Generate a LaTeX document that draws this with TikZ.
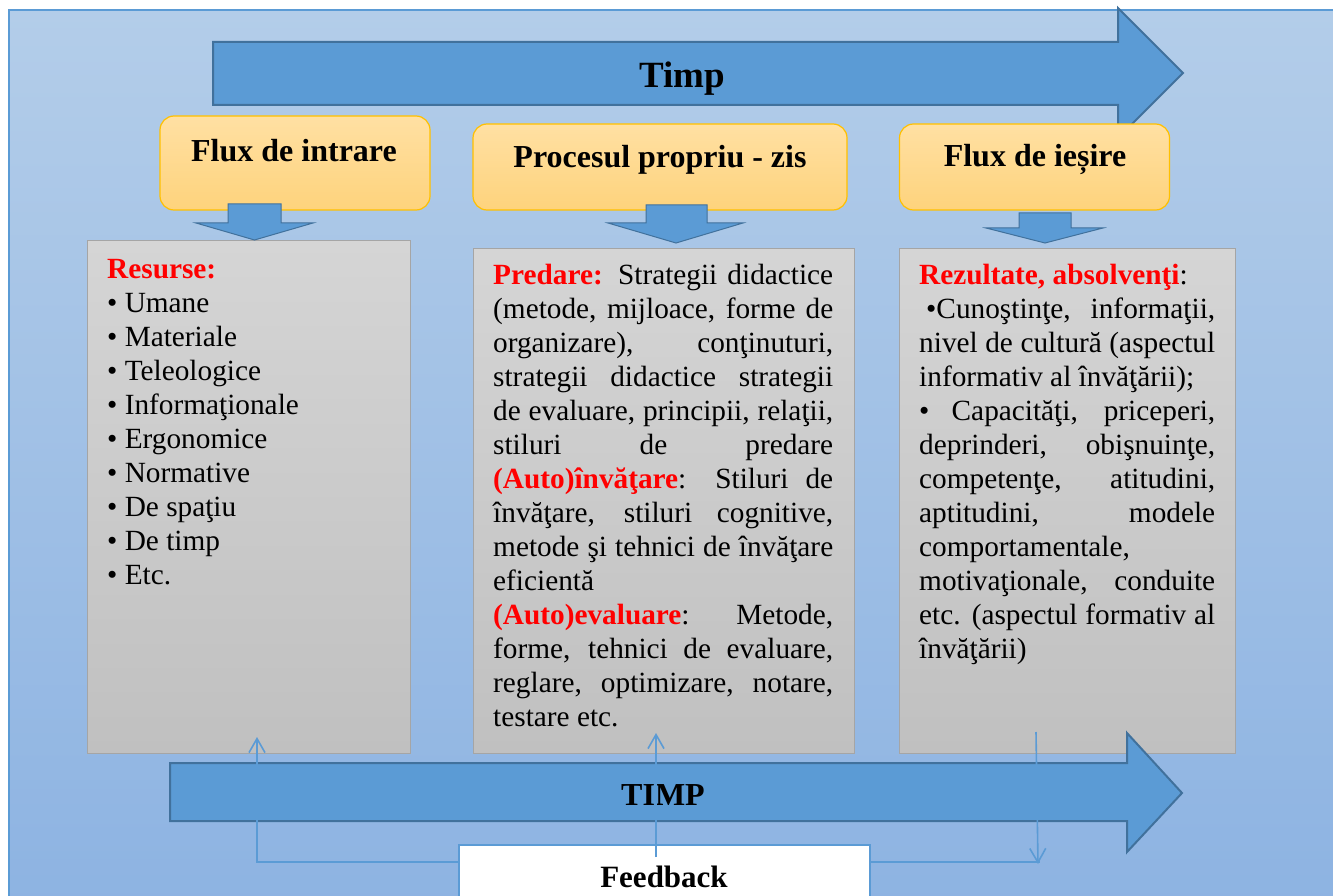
\documentclass[tikz,border=0pt]{standalone}
\usepackage{fontspec}
\setmainfont{Liberation Serif}
\usetikzlibrary{arrows.meta}
\definecolor{bgtop}{HTML}{B3CDE9}
\definecolor{bgbot}{HTML}{8DB3E2}
\definecolor{arrfill}{HTML}{5B9BD5}
\definecolor{arrline}{HTML}{41719C}
\definecolor{hdtop}{HTML}{FFE0A3}
\definecolor{hdbot}{HTML}{FED37C}
\definecolor{hdline}{HTML}{FFC000}
\definecolor{grtop}{HTML}{D5D5D5}
\definecolor{grbot}{HTML}{C0C0C0}
\definecolor{grline}{HTML}{A5A5A5}
\definecolor{fbline}{HTML}{5B9BD5}
\newcommand{\JustA}[1]{\makebox[340pt][s]{#1}}
\newcommand{\JustB}[1]{\makebox[296pt][s]{#1}}
\tikzset{
 bigarrow/.style={fill=arrfill, draw=arrline, line width=2pt, line join=miter},
 header/.style={rounded corners=14pt, top color=hdtop, bottom color=hdbot, draw=hdline, line width=1.2pt, inner sep=0},
 graybox/.style={top color=grtop, bottom color=grbot, draw=grline, line width=1pt, inner sep=0},
 smallarrow/.style={fill=arrfill, draw=arrline, line width=1pt},
 fb/.style={draw=fbline, line width=1.6pt},
 fbarrow/.style={fb, -{Straight Barb[length=14pt,width=16pt,line width=1.6pt]}},
 hdtext/.style={font=\fontsize{32}{38}\selectfont\bfseries, anchor=base, inner sep=0},
 body/.style={font=\fontsize{29.3}{34}\selectfont, anchor=north west, inner sep=0, align=left},
}
\begin{document}
\begin{tikzpicture}[x=1pt,y=-1pt]
\useasboundingbox (0,0) rectangle (1333,896);
\clip (0,0) rectangle (1333,896);
\fill[white] (0,0) rectangle (1333,896);
\path[top color=bgtop, bottom color=bgbot, draw=fbline, line width=1.2pt] (9,10) rectangle (1345,910);

% top arrow
\path[bigarrow] (213,42) -- (1118,42) -- (1118,8) -- (1183,73) -- (1118,138) -- (1118,105) -- (213,105) -- cycle;
\node[font=\fontsize{37}{44}\selectfont\bfseries, anchor=base, inner sep=0] (timp) at (682,88) {Timp};

% headers
\node[header, minimum width=270pt, minimum height=94pt] (h1) at (295,163) {};
\node[hdtext] (h1t) at (294,162) {Flux de intrare};
\node[header, minimum width=374pt, minimum height=86pt] (h2) at (660,167) {};
\node[hdtext] (h2t) at (660,168) {Procesul propriu - zis};
\node[header, minimum width=270pt, minimum height=86pt] (h3) at (1034.5,167) {};
\node[hdtext] (h3t) at (1035,167) {Flux de ieșire};

% gray boxes
\node[graybox, minimum width=323pt, minimum height=513pt] (g1) at (248.5,496.5) {};
\node[graybox, minimum width=381pt, minimum height=505pt] (g2) at (663.5,500.5) {};
\node[graybox, minimum width=336pt, minimum height=505pt] (g3) at (1067,500.5) {};

% small arrows
\path[smallarrow] (228,204) -- (281,204) -- (281,223) -- (313,223) -- (254.5,240) -- (196,223) -- (228,223) -- cycle;
\path[smallarrow] (646,205) -- (707,205) -- (707,223) -- (743,223) -- (676,243) -- (608,223) -- (646,223) -- cycle;
\path[smallarrow] (1019,213) -- (1071,213) -- (1071,228) -- (1103,228) -- (1045,243) -- (986,228) -- (1019,228) -- cycle;

% texts
\node[body] (txt1) at (107,254) {\rule{0pt}{24pt}\textcolor{red}{\textbf{Resurse:}}\\
• Umane\\
• Materiale\\
• Teleologice\\
• Informaţionale\\
• Ergonomice\\
• Normative\\
• De spaţiu\\
• De timp\\
• Etc.};

\node[body] (txt2) at (493,260) {\rule{0pt}{24pt}\JustA{\textcolor{red}{\textbf{Predare:}} Strategii didactice}\\
\JustA{(metode, mijloace, forme de}\\
\JustA{organizare), conţinuturi,}\\
\JustA{strategii didactice strategii}\\
\JustA{de evaluare, principii, relaţii,}\\
\JustA{stiluri de predare}\\
\JustA{\textcolor{red}{\textbf{(Auto)învăţare}}: Stiluri de}\\
\JustA{învăţare, stiluri cognitive,}\\
\JustA{metode şi tehnici de învăţare}\\
eficientă\\
\JustA{\textcolor{red}{\textbf{(Auto)evaluare}}: Metode,}\\
\JustA{forme, tehnici de evaluare,}\\
\JustA{reglare, optimizare, notare,}\\
testare etc.};

\node[body] (txt3) at (919,260) {\rule{0pt}{24pt}\textcolor{red}{\textbf{Rezultate, absolvenţi}}:\\
\JustB{\hspace{7pt}•Cunoştinţe, informaţii,}\\
\JustB{nivel de cultură (aspectul}\\
informativ al învăţării);\\
\JustB{• Capacităţi, priceperi,}\\
\JustB{deprinderi, obişnuinţe,}\\
\JustB{competenţe, atitudini,}\\
\JustB{aptitudini, modele}\\
comportamentale,\\
\JustB{motivaţionale, conduite}\\
\JustB{etc. (aspectul formativ al}\\
învăţării)};

% bottom arrow
\path[bigarrow] (170,763) -- (1127,763) -- (1127,733) -- (1182,793) -- (1127,852) -- (1127,821) -- (170,821) -- cycle;
\node[font=\fontsize{32}{38}\selectfont\bfseries, anchor=base, inner sep=0] (timp2) at (663,805) {TIMP};

% feedback
\node[draw=fbline, fill=white, line width=2pt, minimum width=411pt, minimum height=70pt, inner sep=0] (fbk) at (664.5,880) {};
\node[font=\fontsize{31}{36}\selectfont\bfseries, anchor=base, inner sep=0] (fbt) at (664,887) {Feedback};

\coordinate (l1) at (257,862);
\coordinate (t1) at (257,737);
\draw[fbarrow] (fbk.west |- l1) -- (l1) -- (t1);
\coordinate (m0) at (656,857);
\coordinate (t2) at (656,733);
\draw[fbarrow] (m0) -- (t2);
\coordinate (r1) at (1040,862);
\draw[fb] (fbk.east |- r1) -- (r1);
\coordinate (r0) at (1036,732);
\coordinate (t3) at (1038,864);
\draw[fbarrow] (r0) -- (t3);
\end{tikzpicture}
\end{document}
